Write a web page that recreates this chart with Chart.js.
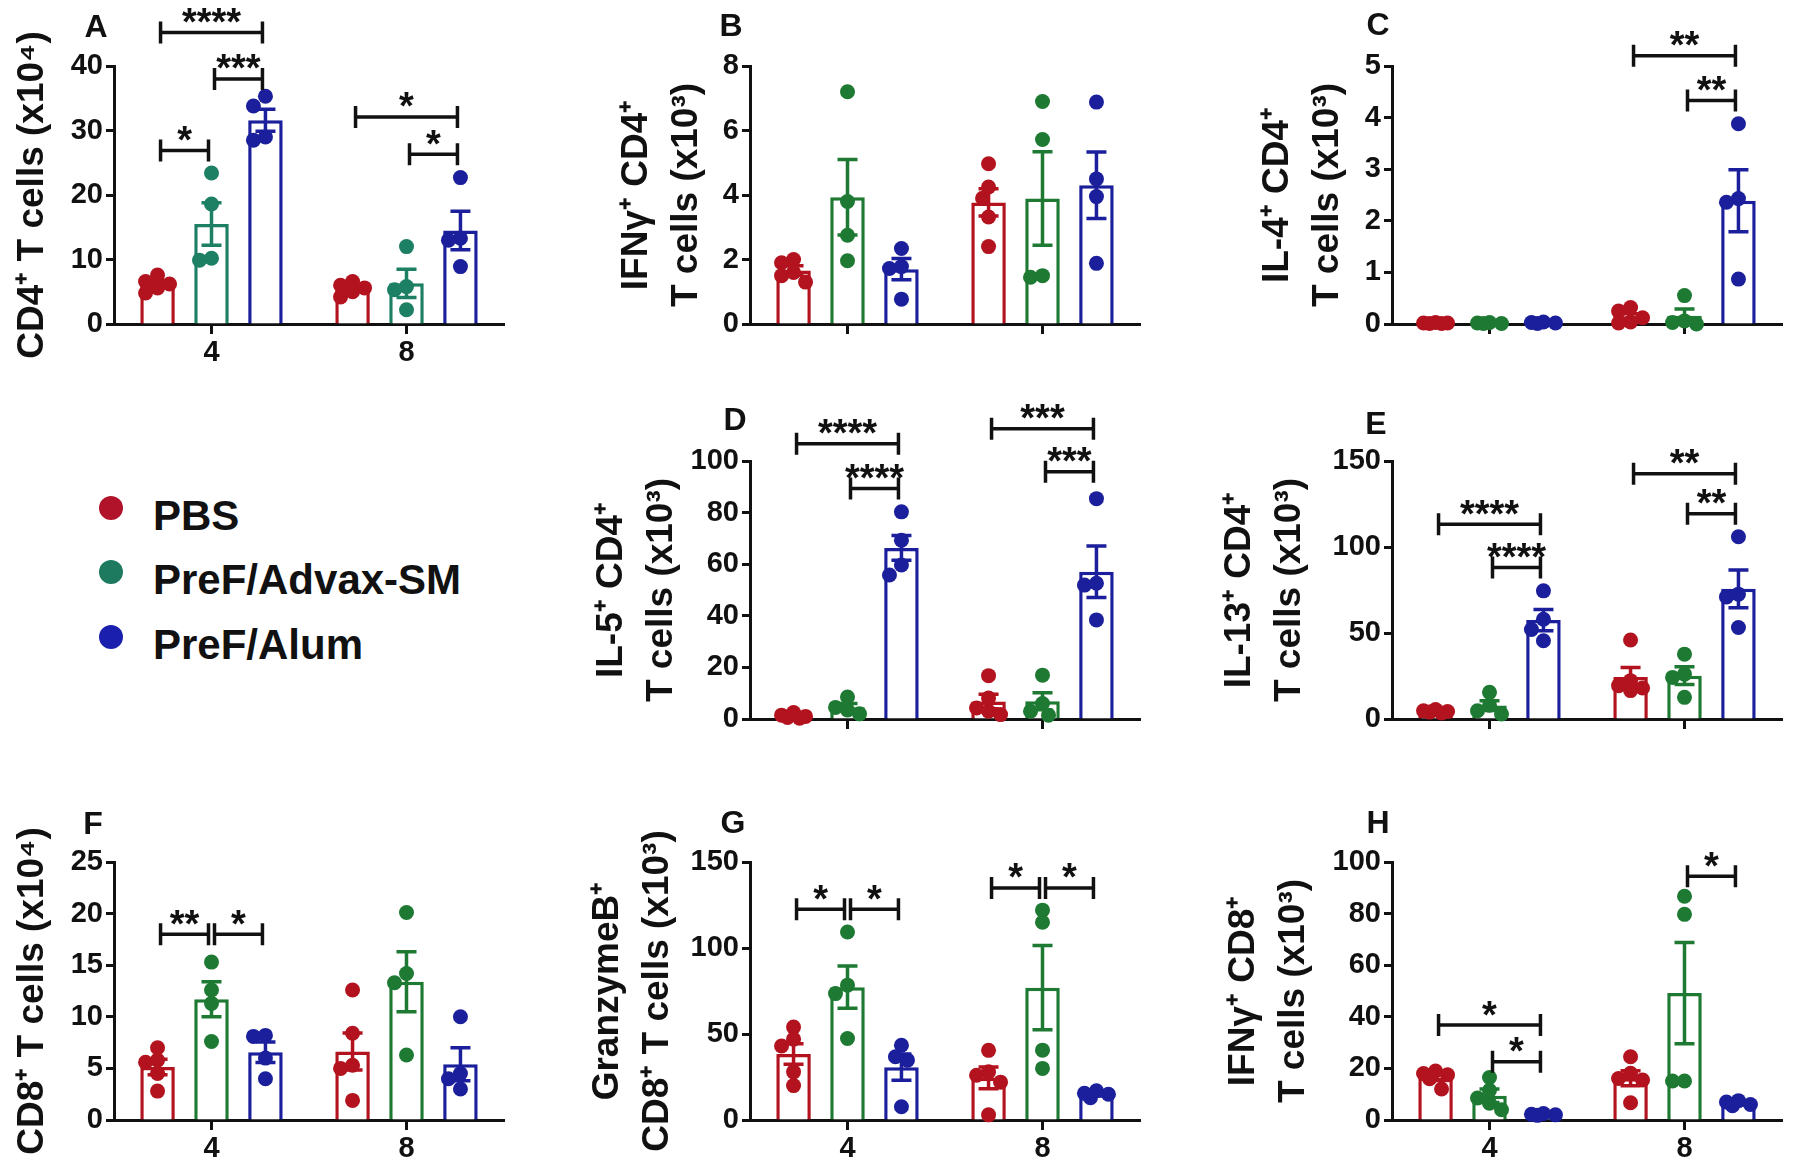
<!DOCTYPE html>
<html>
<head>
<meta charset="utf-8">
<script src="https://cdn.jsdelivr.net/npm/chart.js@4.4.1/dist/chart.umd.min.js"></script>
<style>
  body { margin: 0; width: 1800px; height: 1173px; background: #fff; position: relative; overflow: hidden;
         font-family: "Liberation Sans", Arial, sans-serif; }
  canvas { position: absolute; }
  .tag { position: absolute; font-weight: bold; font-size: 32px; transform: translate(-50%, -50%); color: #111; }
  .leg { position: absolute; font-weight: bold; font-size: 42px; color: #111; transform: translateY(-50%); white-space: nowrap; }
  .dot { position: absolute; width: 24px; height: 24px; border-radius: 50%; transform: translate(-50%, -50%); }
</style>
</head>
<body>
<script>
// weeks post immunisation, treatment groups
const weeks = ['4', '8'];
const groups = ['PBS', 'PreF/Advax-SM', 'PreF/Alum'];

// every array below is [PBS, Advax, Alum], each one [week 4, week 8]
const aMean = [[6.2, 5.6], [15.5, 6.3], [31.6, 14.5]];
const aSem  = [[0.5, 0.4], [3.3, 2.2], [1.7, 3.0]];
const aPts  = [[[7.6, 6.6, 6.2, 5.6, 4.8], [6.6, 6.0, 5.6, 5.0, 4.2]],
               [[23.4, 18.6, 10.2, 9.9], [12.0, 5.8, 5.3, 2.2]],
               [[35.3, 33.8, 29.0, 28.5], [22.7, 13.3, 13.0, 8.9]]];
const aSig  = [[0, 0, 2, 45.2, '****'], [0, 1, 2, 38.0, '***'], [0, 0, 1, 26.9, '*'],
               [1, 0, 2, 32.1, '*'], [1, 1, 2, 26.3, '*']];

const bMean = [[1.66, 3.77], [3.93, 3.89], [1.7, 4.3]];
const bSem  = [[0.15, 0.42], [1.17, 1.45], [0.33, 1.03]];
const bPts  = [[[2.0, 1.9, 1.6, 1.5, 1.3], [4.97, 4.25, 3.9, 3.32, 2.4]],
               [[7.2, 3.8, 2.75, 1.96], [6.9, 5.72, 1.5, 1.45]],
               [[2.34, 1.78, 1.72, 0.77], [6.88, 4.5, 3.95, 1.88]]];
const bSig  = [];

const cMean = [[0.02, 0.15], [0.02, 0.16], [0.02, 2.39]];
const cSem  = [[0, 0.05], [0, 0.13], [0, 0.6]];
const cPts  = [[[0.03, 0.02, 0.02, 0.01, 0.01], [0.32, 0.25, 0.12, 0.04, 0.02]],
               [[0.03, 0.02, 0.01, 0.01], [0.55, 0.06, 0.03, 0.0]],
               [[0.04, 0.03, 0.02, 0.01], [3.88, 2.43, 2.36, 0.87]]];
const cSig  = [[1, 0, 2, 5.2, '**'], [1, 1, 2, 4.33, '**']];

const dMean = [[1.2, 6.8], [4.6, 6.9], [66.3, 57.1]];
const dSem  = [[0.4, 2.8], [1.4, 3.3], [4.8, 10.0]];
const dPts  = [[[2.5, 1.5, 1.0, 0.6, 0.3], [16.8, 8.1, 4.3, 3.0, 1.7]],
               [[8.5, 4.5, 3.5, 2.0], [17.0, 6.0, 3.0, 1.5]],
               [[80.3, 69.3, 59.7, 55.8], [85.4, 52.6, 51.9, 38.4]]];
const dSig  = [[0, 0, 2, 106.7, '****'], [0, 1, 2, 89.3, '****'],
               [1, 0, 2, 112.5, '***'], [1, 1, 2, 95.8, '***']];

const eMean = [[4.5, 24.4], [7.8, 25.2], [57.5, 75.7]];
const eSem  = [[0.4, 5.5], [2.8, 5.2], [6.2, 11.0]];
const ePts  = [[[5.5, 4.8, 4.4, 4.0, 3.5], [45.9, 22.3, 19.4, 18.0, 16.5]],
               [[15.5, 8.0, 4.8, 2.9], [37.7, 26.1, 24.2, 12.6]],
               [[74.5, 58.0, 52.0, 45.5], [106.0, 72.6, 71.0, 53.2]]];
const eSig  = [[0, 0, 2, 113.2, '****'], [0, 1, 2, 88.1, '****'],
               [1, 0, 2, 142.6, '**'], [1, 1, 2, 119.4, '**']];

const fMean = [[5.14, 6.64], [11.7, 13.4], [6.57, 5.4]];
const fSem  = [[0.75, 1.8], [1.7, 2.9], [1.0, 1.6]];
const fPts  = [[[7.0, 5.8, 5.6, 4.5, 2.8], [12.6, 8.4, 5.3, 5.0, 1.9]],
               [[15.3, 12.6, 11.3, 7.6], [20.1, 14.2, 13.3, 6.3]],
               [[8.2, 8.1, 6.0, 4.0], [10.0, 4.5, 4.0, 3.0]]];
const fSig  = [[0, 0, 1, 18.0, '**'], [0, 1, 2, 18.0, '*']];

const gMean = [[38.4, 24.5], [77.2, 76.9], [30.7, 15.0]];
const gSem  = [[6.0, 6.3], [12.3, 24.5], [7.6, 0.9]];
const gPts  = [[[54, 47, 43, 28, 20], [40.5, 28, 26, 22, 3]],
               [[109.3, 78.4, 73.5, 47.4], [122, 115, 40.6, 30]],
               [[43.5, 36.8, 34.8, 7.7], [17, 15.5, 15, 13]]];
const gSig  = [[0, 0, 1, 122.5, '*'], [0, 1, 2, 122.5, '*'],
               [1, 0, 1, 134.9, '*'], [1, 1, 2, 134.9, '*']];

const hMean = [[16.5, 16.2], [9.4, 49.2], [2.1, 6.5]];
const hSem  = [[1.2, 2.9], [2.6, 19.6], [0.2, 0.5]];
const hPts  = [[[19.0, 18.0, 17.5, 16.0, 12.0], [24.5, 18.1, 16.1, 15.5, 6.7]],
               [[16.5, 11.5, 8.5, 6.5, 4.0], [86.7, 79.7, 15.1, 15.1]],
               [[2.5, 2.2, 2.0, 1.8], [7.5, 7.0, 6.0, 5.5]]];
const hSig  = [[0, 0, 2, 36.8, '*'], [0, 1, 2, 22.6, '*'], [1, 1, 2, 94.5, '*']];

const RED = '#b3131e', GREEN = '#1e7a33', TEAL = '#1d7f63', BLUE = '#1b1f9b';
const FONT = '"Liberation Sans", Arial, sans-serif';

// layout (page px)
const colX = [114, 750, 1392];
const rowY = [[66, 324], [461, 719], [862, 1120]];
const PLOT_W = 390, LEFT_W = 180, TOP_PAD = 66, RIGHT_PAD = 20, BOTTOM_H = 54;
const R = 7.5;

const panels = [
  { tag: 'A', title: 'CD4⁺ T cells (x10⁴)', max: 40, step: 10, mean: aMean, sem: aSem, pts: aPts, sig: aSig, col: 0, row: 0, labels: true, off: -81, green: TEAL, tagXY: [96, 26] },
  { tag: 'B', title: ['IFNγ⁺ CD4⁺', 'T cells (x10³)'], max: 8, step: 2, mean: bMean, sem: bSem, pts: bPts, sig: bSig, col: 1, row: 0, labels: false, off: -113, green: GREEN, tagXY: [731, 25] },
  { tag: 'C', title: ['IL-4⁺ CD4⁺', 'T cells (x10³)'], max: 5, step: 1, mean: cMean, sem: cSem, pts: cPts, sig: cSig, col: 2, row: 0, labels: false, off: -114, green: GREEN, tagXY: [1378, 24] },
  { tag: 'D', title: ['IL-5⁺ CD4⁺', 'T cells (x10³)'], max: 100, step: 20, mean: dMean, sem: dSem, pts: dPts, sig: dSig, col: 1, row: 1, labels: false, off: -138, green: GREEN, tagXY: [735, 419] },
  { tag: 'E', title: ['IL-13⁺ CD4⁺', 'T cells (x10³)'], max: 150, step: 50, mean: eMean, sem: eSem, pts: ePts, sig: eSig, col: 2, row: 1, labels: false, off: -152, green: GREEN, tagXY: [1376, 423] },
  { tag: 'F', title: 'CD8⁺ T cells (x10⁴)', max: 25, step: 5, mean: fMean, sem: fSem, pts: fPts, sig: fSig, col: 0, row: 2, labels: true, off: -81, green: GREEN, tagXY: [93, 823] },
  { tag: 'G', title: ['GranzymeB⁺', 'CD8⁺ T cells (x10³)'], max: 150, step: 50, mean: gMean, sem: gSem, pts: gPts, sig: gSig, col: 1, row: 2, labels: true, off: -142, green: GREEN, tagXY: [733, 822] },
  { tag: 'H', title: ['IFNγ⁺ CD8⁺', 'T cells (x10³)'], max: 100, step: 20, mean: hMean, sem: hSem, pts: hPts, sig: hSig, col: 2, row: 2, labels: true, off: -148, green: GREEN, tagXY: [1378, 822] }
];

// spread overlapping dots sideways within the bar, like a column scatter
function swarm(ys, r) {
  const placed = [], xs = [];
  const cand = [0, -r * 0.8, r * 0.8, -r * 1.6, r * 1.6];
  const minDist = (dx, y) => placed.reduce((m, p) => Math.min(m, Math.hypot(p.x - dx, p.y - y)), Infinity);
  const order = ys.map((v, i) => i).sort((a, b) => ys[a] - ys[b]);
  for (const i of order) {
    let best = cand[0], bestD = -1;
    for (const dx of cand) {
      const d = minDist(dx, ys[i]);
      if (d >= r * 1.6) { best = dx; bestD = Infinity; break; }
      if (d > bestD) { bestD = d; best = dx; }
    }
    xs[i] = best;
    placed.push({ x: best, y: ys[i] });
  }
  return xs;
}

function overlay(p) {
  return {
    id: 'overlay',
    afterDatasetsDraw(chart) {
      const ctx = chart.ctx, y = chart.scales.y;
      const cols = [RED, p.green, BLUE];
      ctx.save();
      // dots
      for (let g = 0; g < 3; g++) {
        const meta = chart.getDatasetMeta(g);
        for (let w = 0; w < 2; w++) {
          const bx = meta.data[w].x;
          const ys = p.pts[g][w].map(v => y.getPixelForValue(v));
          const dx = swarm(ys, R);
          ctx.fillStyle = cols[g];
          ys.forEach((py, i) => { ctx.beginPath(); ctx.arc(bx + dx[i], py, R, 0, Math.PI * 2); ctx.fill(); });
        }
      }
      // SEM bars
      ctx.lineWidth = 3.5;
      for (let g = 0; g < 3; g++) {
        const meta = chart.getDatasetMeta(g);
        ctx.strokeStyle = cols[g];
        for (let w = 0; w < 2; w++) {
          const s = p.sem[g][w];
          if (!s) continue;
          const bx = meta.data[w].x;
          const hi = y.getPixelForValue(p.mean[g][w] + s);
          const lo = y.getPixelForValue(Math.max(0, p.mean[g][w] - s));
          ctx.beginPath();
          ctx.moveTo(bx, lo); ctx.lineTo(bx, hi);
          ctx.moveTo(bx - 10, hi); ctx.lineTo(bx + 10, hi);
          ctx.moveTo(bx - 10, lo); ctx.lineTo(bx + 10, lo);
          ctx.stroke();
        }
      }
      // significance brackets
      ctx.strokeStyle = '#111';
      ctx.fillStyle = '#111';
      ctx.font = 'bold 38px ' + FONT;
      ctx.textAlign = 'center';
      ctx.textBaseline = 'alphabetic';
      p.sig.forEach(([w, g1, g2, v, label]) => {
        const x1 = chart.getDatasetMeta(g1).data[w].x + 3;
        const x2 = chart.getDatasetMeta(g2).data[w].x - 3;
        const py = y.getPixelForValue(v);
        ctx.beginPath();
        ctx.moveTo(x1, py); ctx.lineTo(x2, py);
        ctx.moveTo(x1, py - 11); ctx.lineTo(x1, py + 11);
        ctx.moveTo(x2, py - 11); ctx.lineTo(x2, py + 11);
        ctx.stroke();
        const m = ctx.measureText(label);
        const mid = (m.actualBoundingBoxAscent - m.actualBoundingBoxDescent) / 2;
        ctx.fillText(label, (x1 + x2) / 2, py - 17 + mid);
      });
      ctx.restore();
    }
  };
}

panels.forEach(p => {
  const [top, zero] = rowY[p.row];
  const ax = colX[p.col];
  const cv = document.createElement('canvas');
  cv.width = LEFT_W + PLOT_W + RIGHT_PAD;
  cv.height = TOP_PAD + (zero - top) + BOTTOM_H;
  cv.style.left = (ax - LEFT_W) + 'px';
  cv.style.top = (top - TOP_PAD) + 'px';
  document.body.appendChild(cv);

  const titleFont = { family: FONT, size: 37, weight: 'bold', lineHeight: 1.35 };
  const titlePad = LEFT_W + p.off - 37 * 1.35 / 2;
  const cols = [RED, p.green, BLUE];
  const tickFont = { family: FONT, size: 29, weight: 'bold' };

  new Chart(cv, {
    type: 'bar',
    data: {
      labels: weeks,
      datasets: groups.map((name, g) => ({
        label: name,
        data: p.mean[g],
        backgroundColor: '#fff',
        borderColor: cols[g],
        borderWidth: 3.5,
        categoryPercentage: 0.83,
        barPercentage: 0.64
      }))
    },
    options: {
      responsive: false,
      animation: false,
      layout: { padding: { top: TOP_PAD, right: RIGHT_PAD, left: 0, bottom: 0 } },
      plugins: { legend: { display: false }, tooltip: { enabled: false } },
      scales: {
        x: {
          offset: true,
          grid: { offset: false, drawOnChartArea: false, tickLength: 10, tickWidth: 3, color: '#111' },
          border: { width: 3, color: '#111' },
          ticks: { font: tickFont, color: p.labels ? '#111' : 'rgba(0,0,0,0)', padding: 2 },
          afterFit: s => { s.height = BOTTOM_H; }
        },
        y: {
          min: 0, max: p.max,
          grid: { drawOnChartArea: false, tickLength: 8, tickWidth: 3, color: '#111' },
          border: { width: 3, color: '#111' },
          ticks: { stepSize: p.step, font: tickFont, color: '#111', padding: 3 },
          title: { display: true, text: p.title, font: titleFont, color: '#111', padding: { top: titlePad, bottom: 0 } },
          afterFit: s => { s.width = LEFT_W; }
        }
      }
    },
    plugins: [overlay(p)]
  });

  const t = document.createElement('div');
  t.className = 'tag';
  t.textContent = p.tag;
  t.style.left = p.tagXY[0] + 'px';
  t.style.top = p.tagXY[1] + 'px';
  document.body.appendChild(t);
});

// group key
const legendColors = ['#b0132a', '#1d7a5f', '#1a1fae'];
const legendY = [516, 580, 645];
groups.forEach((name, g) => {
  const d = document.createElement('div');
  d.className = 'dot';
  d.style.background = legendColors[g];
  d.style.left = '111px';
  d.style.top = (legendY[g] - 8) + 'px';
  document.body.appendChild(d);
  const l = document.createElement('div');
  l.className = 'leg';
  l.textContent = name;
  l.style.left = '153px';
  l.style.top = legendY[g] + 'px';
  document.body.appendChild(l);
});
</script>
</body>
</html>
